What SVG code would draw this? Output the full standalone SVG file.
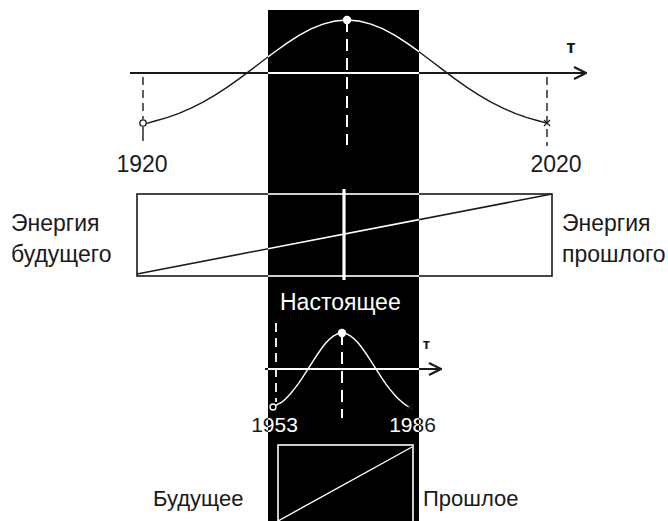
<svg xmlns="http://www.w3.org/2000/svg" xmlns:xlink="http://www.w3.org/1999/xlink" width="668" height="521" viewBox="0 0 668 521">
<style>
  .f { font-family: "Liberation Sans", Arial, sans-serif; }
  .t { font-family: "Liberation Sans", Arial, sans-serif; fill: #1a1a1a; }
  .w { fill: #ffffff; }
  .big { font-size: 23px; }
  .mid { font-size: 22px; }
  .sm { font-size: 21px; }
  .tau { font-weight: bold; }
  .dash { stroke-dasharray: 8 5; }
  .dashw { stroke: #ffffff; stroke-dasharray: 12 7; stroke-width: 2; fill: none; }
</style>
<defs>
  <clipPath id="bandClip"><rect x="268" y="10" width="151" height="511"/></clipPath>
  <marker id="arr" viewBox="0 0 14 14" refX="13" refY="7" markerWidth="14" markerHeight="14" markerUnits="userSpaceOnUse" orient="auto">
    <polyline points="1,1 13,7 1,13" fill="none" stroke="#1a1a1a" stroke-width="2.2"/>
  </marker>
  <g id="topGeo" fill="none">
    <line x1="130" y1="73" x2="586" y2="73" stroke-width="2" marker-end="url(#arr)"/>
    <polyline stroke-width="1.4" stroke-linejoin="round" points="146,123.7 155,121 167,117.6 179,113.3 191,108.2 203,102.1 215,95.2 227,87.4 239,78.9 251,69.9 263,60.7 275,51.7 287,43.1 299,35.4 311,28.9 323,24.1 335,21 347,20 359,21 371,24.1 383,28.9 395,35.4 407,43.1 419,51.7 431,60.7 443,69.9 455,78.9 467,87.4 479,95.2 491,102.1 503,108.2 515,113.3 527,117.6 539,121 547,123.2"/>
  </g>
  <g id="boxGeo" fill="none" stroke-width="1.6">
    <rect x="137" y="194" width="415" height="82"/>
    <line x1="137" y1="274" x2="552" y2="194"/>
  </g>
  <g id="botGeo" fill="none">
    <line x1="265" y1="369" x2="441" y2="369" stroke-width="1.8" marker-end="url(#arr)"/>
    <polyline stroke-width="1.4" stroke-linejoin="round" points="276,405.2 282,402.1 286,398.4 290,394.2 294,389.4 298,384.1 302,378.3 306,372.2 310,365.9 314,359.6 318,353.5 322,347.8 326,342.8 330,338.7 334,335.6 338,333.6 342,333 346,333.6 350,335.6 354,338.7 358,342.8 362,347.8 366,353.5 370,359.6 374,365.9 378,372.2 382,378.3 386,384.1 390,389.4 394,394.2 398,398.4 402,402.1 406,405.2 410,407.4"/>
  </g>
  <g id="yearsGeo" class="f" font-size="21" text-anchor="middle">
    <text x="274.5" y="432">1953</text>
    <text x="412.5" y="432">1986</text>
  </g>
</defs>

<g id="band">
  <rect x="268" y="10" width="151" height="511" fill="#000000"/>
</g>

<g id="connectors">
  <use xlink:href="#topGeo" href="#topGeo" stroke="#1a1a1a"/>
  <use xlink:href="#topGeo" href="#topGeo" stroke="#ffffff" clip-path="url(#bandClip)"/>
  <line class="dash" x1="143" y1="77" x2="143" y2="119" stroke="#1a1a1a" stroke-width="1.4"/>
  <line x1="143" y1="127" x2="143" y2="141" stroke="#1a1a1a" stroke-width="1.4"/>
  <line class="dash" x1="547" y1="77" x2="547" y2="146" stroke="#1a1a1a" stroke-width="1.4"/>
  <line class="dashw" x1="347" y1="20" x2="347" y2="145"/>
  <use xlink:href="#boxGeo" href="#boxGeo" stroke="#1a1a1a"/>
  <use xlink:href="#boxGeo" href="#boxGeo" stroke="#ffffff" clip-path="url(#bandClip)"/>
  <line x1="344" y1="189" x2="344" y2="280" stroke="#ffffff" stroke-width="3.2"/>
  <use xlink:href="#botGeo" href="#botGeo" stroke="#1a1a1a"/>
  <use xlink:href="#botGeo" href="#botGeo" stroke="#ffffff" clip-path="url(#bandClip)"/>
  <line x1="276" y1="323" x2="276" y2="402" stroke="#ffffff" stroke-width="1.8" stroke-dasharray="9 6"/>
  <line class="dashw" x1="342" y1="333" x2="342" y2="418"/>
  <rect x="278" y="445" width="135" height="80" fill="none" stroke="#ffffff" stroke-width="1.6"/>
  <line x1="278" y1="521" x2="412" y2="447" stroke="#ffffff" stroke-width="1.4"/>
</g>

<g id="top-graph">
  <circle cx="143" cy="123" r="3.2" fill="#ffffff" stroke="#1a1a1a" stroke-width="1.3"/>
  <path d="M544,120 L550,126 M550,120 L544,126" stroke="#1a1a1a" stroke-width="1.2"/>
  <circle cx="347" cy="20" r="4.2" fill="#ffffff"/>
  <text class="t tau" x="571" y="53" font-size="19" text-anchor="middle">т</text>
  <text class="t big" x="142" y="172" text-anchor="middle">1920</text>
  <text class="t big" x="556" y="172" text-anchor="middle">2020</text>
</g>

<g id="energy-box">
  <text class="t big" x="11" y="231">Энергия</text>
  <text class="t big" x="11" y="262">будущего</text>
  <text class="t big" x="562" y="231">Энергия</text>
  <text class="t big" x="562" y="262">прошлого</text>
  <text class="t w big" x="280" y="310">Настоящее</text>
</g>

<g id="bottom-graph">
  <circle cx="273" cy="407" r="3" fill="#000000" stroke="#ffffff" stroke-width="1.3"/>
  <path d="M407,404 L413,410 M413,404 L407,410" stroke="#1a1a1a" stroke-width="1.2"/>
  <circle cx="342" cy="333" r="4.2" fill="#ffffff"/>
  <text class="t tau" x="426.5" y="349" font-size="15" text-anchor="middle">т</text>
  <use xlink:href="#yearsGeo" href="#yearsGeo" fill="#1a1a1a"/>
  <use xlink:href="#yearsGeo" href="#yearsGeo" fill="#ffffff" clip-path="url(#bandClip)"/>
</g>

<g id="bottom-box">
  <text class="t mid" x="153" y="506">Будущее</text>
  <text class="t mid" x="423" y="506">Прошлое</text>
</g>
</svg>
